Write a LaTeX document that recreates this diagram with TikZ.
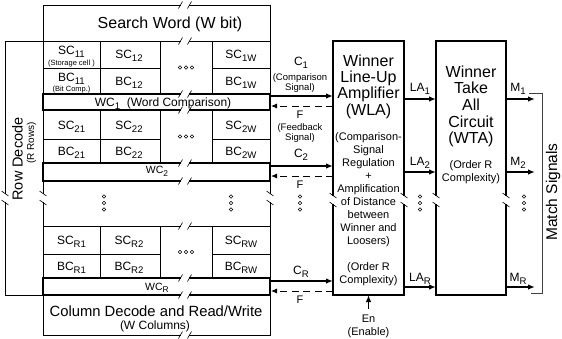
\documentclass[tikz,border=0pt]{standalone}
\usepackage{fontspec}
\setmainfont{Liberation Sans}
\usepackage{graphicx}
\usetikzlibrary{arrows.meta}
\newcommand\cs[2]{#1\raisebox{-0.28em}{\scalebox{0.8}{#2}}}
\newcommand\fsz[2]{\fontsize{#1}{#2}\selectfont}
\newcommand\brkh[2]{\fill[white] ({#1-4},{#2-2.2}) rectangle ({#1+4},{#2+2.2}); \draw[brk] ({#1-6.5},{#2+3.5}) -- ({#1-2.5},{#2-3.5}); \draw[brk] ({#1+2.5},{#2+3.5}) -- ({#1+6.5},{#2-3.5});}
\newcommand\brkv[2]{\fill[white] ({#1-2.2},{#2-4}) rectangle ({#1+2.2},{#2+4}); \draw[brk] ({#1-3.5},{#2-7}) -- ({#1+3.5},{#2-2}); \draw[brk] ({#1-3.5},{#2+2}) -- ({#1+3.5},{#2+7});}
\newcommand\hdts[2]{\foreach \k in {-6,0,6} \draw[line width=0.5pt] ({#1+\k},#2) circle (1.7);}
\newcommand\vdts[2]{\foreach \k in {-6.5,0,6.5} \draw[line width=0.5pt] (#1,{#2+\k}) circle (1.7);}
\newcommand\rn[7][]{\node[box,#1,minimum width={#4-#2},minimum height={#5-#3}] (#6) at ({(#2+#4)/2},{(#3+#5)/2}) {#7};}
\begin{document}
\begin{tikzpicture}[x=1pt,y=-1pt,
  box/.style={draw,line width=0.9pt,inner sep=0pt,outer sep=0pt},
  wcbox/.style={line width=1.1pt},
  bigbox/.style={line width=1.2pt},
  txt/.style={inner sep=0pt,outer sep=0pt,anchor=base},
  cell/.style={font=\fsz{12}{14}},
  small/.style={font=\fsz{9.5}{11}},
  sig/.style={line width=1.5pt,-{Latex[length=7pt,width=5.5pt]}},
  fb/.style={line width=0.9pt,dash pattern=on 7pt off 4.5pt,-{Latex[length=6pt,width=5pt]}},
  brk/.style={line width=0.6pt},
]
\useasboundingbox (0,0) rectangle (562,338);

% ---------- memory array boxes ----------
\rn{43}{5}{270}{41}{sw}{}
\rn{5}{41}{43}{295}{rd}{}
% row 1
\rn{43}{41}{100}{68}{sc11}{}
\rn{100}{41}{160}{68}{sc12}{}
\rn{160}{41}{212}{94}{md1}{}
\rn{212}{41}{270}{68}{sc1w}{}
\rn{43}{68}{100}{94}{bc11}{}
\rn{100}{68}{160}{94}{bc12}{}
\rn{212}{68}{270}{94}{bc1w}{}
\rn[wcbox]{43}{94}{270}{110}{wc1}{}
% row 2
\rn{43}{110}{100}{139}{sc21}{}
\rn{100}{110}{160}{139}{sc22}{}
\rn{160}{110}{212}{163}{md2}{}
\rn{212}{110}{270}{139}{sc2w}{}
\rn{43}{139}{100}{163}{bc21}{}
\rn{100}{139}{160}{163}{bc22}{}
\rn{212}{139}{270}{163}{bc2w}{}
\rn[wcbox]{43}{163}{270}{181}{wc2}{}
% row R
\rn{43}{226}{100}{254}{scr1}{}
\rn{100}{226}{160}{254}{scr2}{}
\rn{160}{226}{212}{278}{mdr}{}
\rn{212}{226}{270}{254}{scrw}{}
\rn{43}{254}{100}{278}{bcr1}{}
\rn{100}{254}{160}{278}{bcr2}{}
\rn{212}{254}{270}{278}{bcrw}{}
\rn[wcbox]{43}{278}{270}{295}{wcr}{}
\rn{43}{295}{270}{335}{cd}{}
\draw[line width=0.9pt] (wc2.south west) -- (scr1.north west);
\draw[line width=0.9pt] (wc2.south east) -- (scrw.north east);

% ---------- WLA / WTA ----------
\rn[bigbox]{333}{41}{404}{295}{wla}{}
\rn[bigbox]{436}{41}{506}{295}{wta}{}

% ---------- breaks ----------
\foreach \yy in {5,41,94,110,163,181,226,278,295,335} {\brkh{185}{\yy}}
\brkv{5}{198}
\brkv{43}{198}
\brkv{270}{198}
\brkv{333}{200}
\brkv{404}{200}
\brkv{436}{200}
\brkv{506}{200}

% ---------- memory texts ----------
\node[txt,font=\fsz{16}{18}] (swt) at (170,28) {Search Word (W bit)};
\node[txt,cell] (t11) at (71.5,54) {\cs{SC}{11}};
\node[txt,font=\fsz{7.5}{9}] (t11s) at (71.5,65) {(Storage cell )};
\node[txt,cell] (b11) at (71.5,81) {\cs{BC}{11}};
\node[txt,font=\fsz{7.5}{9}] (b11s) at (71.5,91) {(Bit Comp.)};
\node[txt,cell] (t12) at (129,58) {\cs{SC}{12}};
\node[txt,cell] (t1w) at (241,58) {\cs{SC}{1W}};
\node[txt,cell] (b12) at (129,85) {\cs{BC}{12}};
\node[txt,cell] (b1w) at (241,85) {\cs{BC}{1W}};
\hdts{186}{67.5}
\node[txt,font=\fsz{12}{14}] (w1t) at (163,106) {\cs{WC}{1}\ \ (Word Comparison)};

\node[txt,cell] (t21) at (71.5,129.5) {\cs{SC}{21}};
\node[txt,cell] (t22) at (129,129.5) {\cs{SC}{22}};
\node[txt,cell] (t2w) at (241,129.5) {\cs{SC}{2W}};
\node[txt,cell] (b21) at (71.5,155.5) {\cs{BC}{21}};
\node[txt,cell] (b22) at (129,155.5) {\cs{BC}{22}};
\node[txt,cell] (b2w) at (241,155.5) {\cs{BC}{2W}};
\hdts{186}{136.5}
\node[txt,font=\fsz{10.5}{12}] (w2t) at (157,173.5) {\cs{WC}{2}};

\vdts{104}{203}
\vdts{231}{203}

\node[txt,cell] (tr1) at (71.5,244.5) {\cs{SC}{R1}};
\node[txt,cell] (tr2) at (129,244.5) {\cs{SC}{R2}};
\node[txt,cell] (trw) at (241,244.5) {\cs{SC}{RW}};
\node[txt,cell] (br1) at (71.5,270.5) {\cs{BC}{R1}};
\node[txt,cell] (br2) at (129,270.5) {\cs{BC}{R2}};
\node[txt,cell] (brw) at (241,270.5) {\cs{BC}{RW}};
\hdts{186}{252}
\node[txt,font=\fsz{10.5}{12}] (wrt) at (157,290) {\cs{WC}{R}};

\node[txt,font=\fsz{14.8}{16}] (cdt) at (156,316) {Column Decode and Read/Write};
\node[txt,font=\fsz{12}{14}] (cdt2) at (155,329) {(W Columns)};

\node[inner sep=0pt,rotate=90,font=\fsz{14.5}{16}] (rdt) at (17.5,159) {Row Decode};
\node[inner sep=0pt,rotate=90,font=\fsz{10}{12}] (rdt2) at (31.5,143) {(R Rows)};

% ---------- comparison / feedback signals ----------
\coordinate (c1) at (270,96);
\coordinate (f1) at (271,106);
\coordinate (c2) at (270,166);
\coordinate (f2) at (271,176);
\coordinate (cr) at (270,281);
\coordinate (fr) at (271,291);
\draw[sig] (c1) -- (wla.west |- c1);
\draw[fb] (wla.west |- f1) -- (f1);
\draw[sig] (c2) -- (wla.west |- c2);
\draw[fb] (wla.west |- f2) -- (f2);
\draw[sig] (cr) -- (wla.west |- cr);
\draw[fb] (wla.west |- fr) -- (fr);

\node[txt,cell] (c1t) at (301,65.5) {\cs{C}{1}};
\node[txt,small] (c1a) at (300,80.5) {(Comparison};
\node[txt,small] (c1b) at (300,90) {Signal)};
\node[txt,font=\fsz{11}{13}] (f1t) at (300,118) {F};
\node[txt,small] (f1a) at (300,130.5) {(Feedback};
\node[txt,small] (f1b) at (300,140) {Signal)};
\node[txt,cell] (c2t) at (301,157.3) {\cs{C}{2}};
\node[txt,font=\fsz{11}{13}] (f2t) at (300,188) {F};
\vdts{300}{203}
\node[txt,cell] (crt) at (301,274.3) {\cs{C}{R}};
\node[txt,font=\fsz{11}{13}] (frt) at (300,303) {F};

% ---------- WLA text ----------
\node[inner sep=0pt,anchor=north,align=center,font=\fsz{16}{16.4}] (wlat) at (368.5,54.3) {Winner\\Line-Up\\Amplifier\\(WLA)};
\node[inner sep=0pt,anchor=north,align=center,font=\fsz{11}{12.9}] (wlad) at (368.5,132.8) {(Comparison-\\Signal\\Regulation\\+\\Amplification\\of Distance\\between\\Winner and\\Loosers)};
\node[inner sep=0pt,anchor=north,align=center,font=\fsz{11}{12.2}] (wlao) at (368.5,262.8) {(Order R\\Complexity)};

\coordinate (en) at (368.5,309);
\draw[sig] (en) -- (wla.south);
\node[txt,font=\fsz{11}{13}] (ent) at (368.5,322) {En};
\node[txt,font=\fsz{11}{13}] (ent2) at (368.5,335.5) {(Enable)};

% ---------- LA signals ----------
\coordinate (l1) at (420,99);
\coordinate (l2) at (420,172);
\coordinate (lr) at (420,287);
\draw[sig] (wla.east |- l1) -- (wta.west |- l1);
\draw[sig] (wla.east |- l2) -- (wta.west |- l2);
\draw[sig] (wla.east |- lr) -- (wta.west |- lr);
\node[txt,cell] (l1t) at (420,91.3) {\cs{LA}{1}};
\node[txt,cell] (l2t) at (420,165.3) {\cs{LA}{2}};
\node[txt,cell] (lrt) at (420,281.3) {\cs{LA}{R}};
\vdts{420}{203}

% ---------- WTA text ----------
\node[inner sep=0pt,anchor=north,align=center,font=\fsz{16}{16.7}] (wtat) at (471,65.3) {Winner\\Take\\All\\Circuit\\(WTA)};
\node[inner sep=0pt,anchor=north,align=center,font=\fsz{11}{12.2}] (wtao) at (471,160.8) {(Order R\\Complexity)};

% ---------- match signals ----------
\coordinate (m1) at (535,99);
\coordinate (m2) at (535,172);
\coordinate (mr) at (535,287);
\draw[sig] (wta.east |- m1) -- (m1);
\draw[sig] (wta.east |- m2) -- (m2);
\draw[sig] (wta.east |- mr) -- (mr);
\node[txt,cell] (m1t) at (518,91.3) {\cs{M}{1}};
\node[txt,cell] (m2t) at (518,165.3) {\cs{M}{2}};
\node[txt,cell] (mrt) at (518,281.3) {\cs{M}{R}};
\vdts{524}{203}
\draw[line width=0.5pt,black!75] (529,93) -- (542,93) -- (542,293) -- (531,293);
\node[inner sep=0pt,rotate=90,font=\fsz{15.5}{17}] (mst) at (553,192) {Match Signals};
\end{tikzpicture}
\end{document}
